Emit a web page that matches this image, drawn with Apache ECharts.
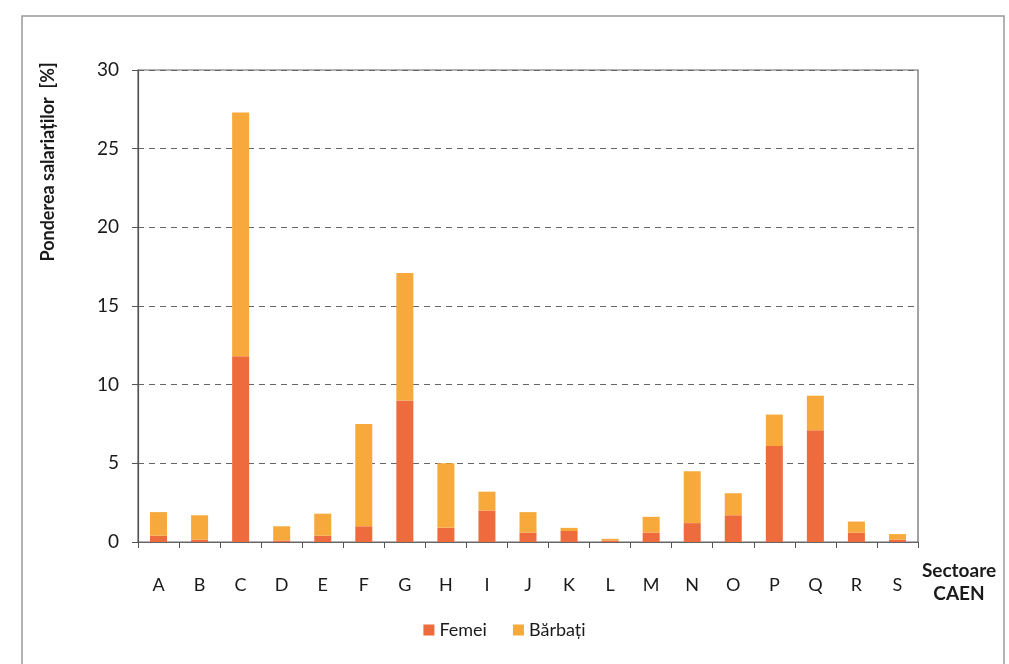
<!DOCTYPE html>
<html>
<head>
<meta charset="utf-8">
<script src="https://cdn.jsdelivr.net/npm/echarts@6/dist/echarts.min.js"></script>
<style>
html,body{margin:0;padding:0;background:#fff;}
#c{width:1009px;height:664px;}
</style>
</head>
<body>
<div id="c"></div>
<script>
var categories = ['A','B','C','D','E','F','G','H','I','J','K','L','M','N','O','P','Q','R','S'];
var femei   = [0.4, 0.15, 11.8, 0.1, 0.4, 1.0, 9.0, 0.9, 2.0, 0.6, 0.7, 0.1, 0.6, 1.2, 1.7, 6.1, 7.1, 0.6, 0.15];
var barbati = [1.5, 1.55, 15.5, 0.9, 1.4, 6.5, 8.1, 4.1, 1.2, 1.3, 0.2, 0.1, 1.0, 3.3, 1.4, 2.0, 2.2, 0.7, 0.35];
var seriesNames = ['Femei', 'Bărbați'];
var yTitle = 'Ponderea salariaților  [%]';
var xTitle = 'Sectoare\nCAEN';

var FONT = 'Lato, "Open Sans", sans-serif';
var chart = echarts.init(document.getElementById('c'), null, {renderer:'canvas'});
chart.setOption({
  animation: false,
  backgroundColor: '#fff',
  textStyle: {fontFamily: FONT},
  grid: {left: 138, top: 70, right: 91, bottom: 122, show: true, borderColor: '#666', borderWidth: 1.2},
  legend: {
    bottom: 20, left: 'center', itemWidth: 11, itemHeight: 11, itemGap: 26, icon: 'rect',
    textStyle: {fontSize: 18, color: '#1a1a1a', fontFamily: FONT},
    data: seriesNames
  },
  graphic: [
    {type: 'rect', shape: {x: 22, y: 16, width: 982, height: 660},
     style: {fill: 'none', stroke: '#999', lineWidth: 1.5}, silent: true},
    {type: 'text', x: 48, y: 162, rotation: Math.PI/2,
     style: {text: yTitle, fontSize: 18, fontWeight: 'bold', fill: '#1a1a1a', fontFamily: FONT,
             align: 'center', verticalAlign: 'middle'}}
  ],
  xAxis: {
    type: 'category', data: categories,
    name: xTitle, nameLocation: 'end', nameGap: 41,
    nameTextStyle: {fontSize: 19, fontWeight: 'bold', color: '#1a1a1a', align: 'center',
                    verticalAlign: 'top', lineHeight: 23, padding: [17,0,0,0], fontFamily: FONT},
    axisLine: {lineStyle: {color: '#666', width: 1.2}},
    axisTick: {show: true, length: 6, lineStyle: {color: '#555'}},
    axisLabel: {fontSize: 18, color: '#1a1a1a', margin: 34, fontFamily: FONT}
  },
  yAxis: {
    type: 'value', min: 0, max: 30, interval: 5,
    axisLine: {show: true, lineStyle: {color: '#555', width: 1.2}},
    axisTick: {show: true, length: 6, lineStyle: {color: '#555'}},
    axisLabel: {fontSize: 19, color: '#1a1a1a', margin: 19, fontFamily: FONT},
    splitLine: {show: true, lineStyle: {color: '#666', type: [6, 5], width: 1.2}}
  },
  series: [
    {name: seriesNames[0], type: 'bar', stack: 's', data: femei, barWidth: 17,
     itemStyle: {color: '#EE6B3D'}},
    {name: seriesNames[1], type: 'bar', stack: 's', data: barbati, barWidth: 17,
     itemStyle: {color: '#F7A93B'}}
  ]
});
</script>
</body>
</html>
